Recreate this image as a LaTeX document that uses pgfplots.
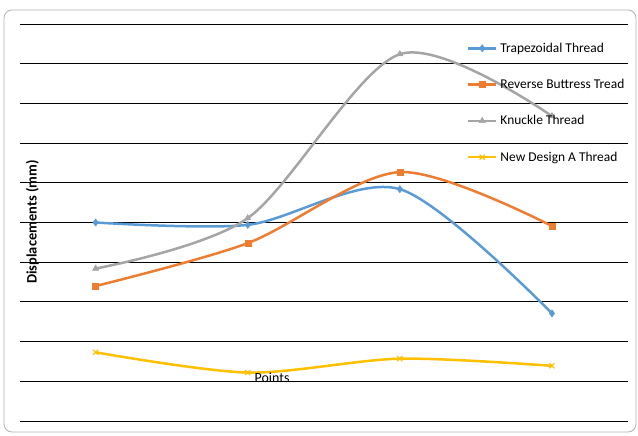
\documentclass[border=0pt]{standalone}
\usepackage{pgfplots}
\pgfplotsset{compat=1.18}
\usepackage{fontspec}
\setmainfont{Carlito}
\definecolor{cBlue}{HTML}{5B9BD5}
\definecolor{cOrange}{HTML}{ED7D31}
\definecolor{cGray}{HTML}{A5A5A5}
\definecolor{cYellow}{HTML}{FFC000}
\begin{document}
\begin{tikzpicture}
\useasboundingbox (0,0) rectangle (638bp,436bp);
\draw[rounded corners=8bp, color=black!30, line width=0.8bp] (4bp,4bp) rectangle (636bp,426bp);
\begin{axis}[
  at={(19.6bp,15bp)}, anchor=south west,
  scale only axis, width=608.4bp, height=397bp,
  xmin=0.5, xmax=4.5, ymin=0, ymax=10,
  xtick=\empty, ytick={0,1,...,10}, yticklabels={},
  major tick length=0pt,
  ymajorgrids, grid style={black, line width=0.8bp},
  axis line style={draw=none},
  xlabel={Points}, xlabel style={at={(axis description cs:0.415,0.108)}, anchor=center, font=\fontsize{14}{16}\selectfont},
  ylabel={\textbf{Displacements (mm)}}, ylabel style={at={(axis description cs:0.021,0.501)}, anchor=center, rotate=0, font=\fontsize{14.5}{16}\selectfont},
  legend style={at={(axis description cs:0.735,0.958)}, anchor=north west, draw=none, fill=none,
    font=\fontsize{13.5}{15}\selectfont, row sep=21.5bp, inner sep=0pt, cells={anchor=west},
    /tikz/every odd column/.append style={column sep=1bp}},
  legend image code/.code={\draw[#1, line width=2.5bp, mark repeat=2, mark phase=2] plot coordinates {(0bp,0bp) (14bp,0bp) (28bp,0bp)};},
  every axis plot/.append style={line width=2.5bp, smooth, tension=0.5},
]
\addplot[cBlue, mark=diamond*, mark size=3.6bp, mark options={line width=0.5bp}] coordinates {(1,5.00) (2,4.94) (3,5.84) (4,2.71)};
\addlegendentry{Trapezoidal Thread}
\addplot[cOrange, mark=square*, mark size=3bp, mark options={line width=0.5bp}] coordinates {(1,3.40) (2,4.48) (3,6.27) (4,4.91)};
\addlegendentry{Reverse Buttress Tread}
\addplot[cGray, mark=triangle*, mark size=3.6bp, mark options={line width=0.5bp}] coordinates {(1,3.84) (2,5.11) (3,9.24) (4,7.68)};
\addlegendentry{Knuckle Thread}
\addplot[cYellow, mark=x, mark size=3.6bp, mark options={line width=1.1bp}] coordinates {(1,1.73) (2,1.22) (3,1.57) (4,1.39)};
\addlegendentry{New Design A Thread}
\end{axis}
\end{tikzpicture}
\end{document}
